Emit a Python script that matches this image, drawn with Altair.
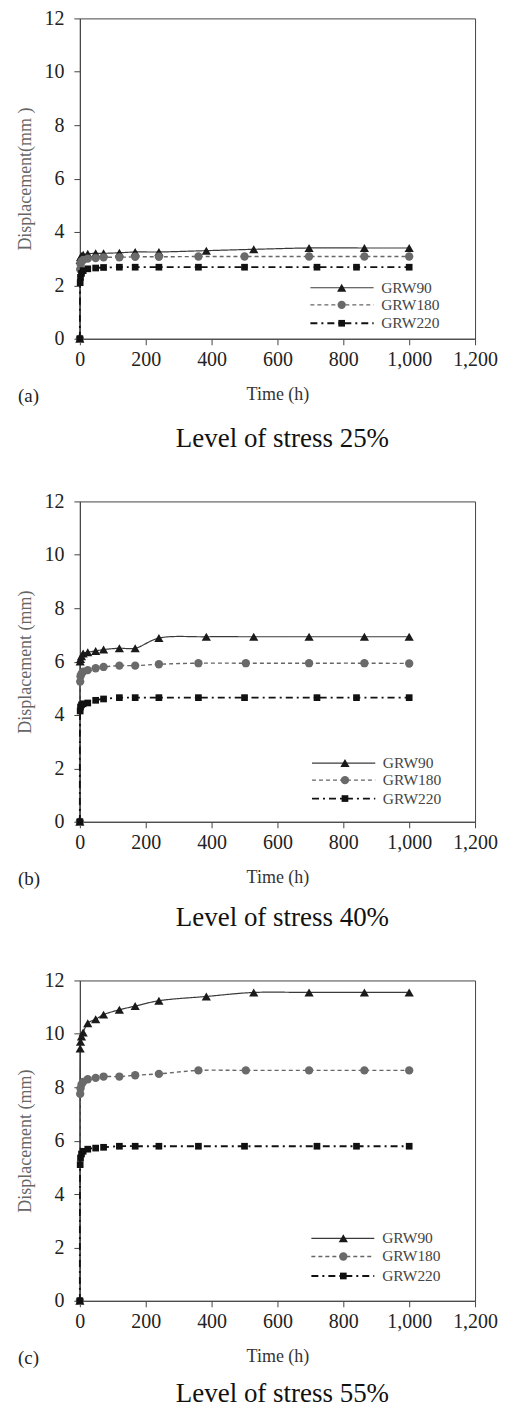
import altair as alt
import pandas as pd

FONT = "Liberation Serif"
W, H = 396, 321

X_TICKS = [0, 200, 400, 600, 800, 1000, 1200]
Y_TICKS = [0, 2, 4, 6, 8, 10, 12]
NAMES = ["GRW90", "GRW180", "GRW220"]

# ---- panel (a): level of stress 25% ----
T90_A = [0, 1, 2, 5, 10, 24, 48, 72, 120, 168, 240, 384, 528, 696, 864, 1000]
V90_A = [0, 2.95, 3.05, 3.1, 3.15, 3.18, 3.2, 3.2, 3.22, 3.25, 3.25, 3.3, 3.35, 3.4, 3.4, 3.4]
T180_A = [0, 1, 2, 5, 10, 24, 48, 72, 120, 168, 240, 360, 500, 696, 864, 1000]
V180_A = [0, 2.6, 2.8, 2.9, 2.95, 3.0, 3.02, 3.05, 3.05, 3.07, 3.07, 3.08, 3.08, 3.08, 3.08, 3.08]
T220_A = [0, 1, 2, 5, 10, 24, 48, 72, 120, 168, 240, 360, 500, 720, 840, 1000]
V220_A = [0, 2.1, 2.3, 2.45, 2.55, 2.62, 2.65, 2.67, 2.68, 2.68, 2.68, 2.68, 2.68, 2.68, 2.68, 2.68]

# ---- panel (b): level of stress 40% ----
T90_B = [0, 1, 2, 5, 10, 24, 48, 72, 120, 168, 240, 384, 528, 696, 864, 1000]
V90_B = [0, 6.0, 6.1, 6.2, 6.3, 6.35, 6.4, 6.45, 6.5, 6.5, 6.88, 6.93, 6.93, 6.93, 6.93, 6.93]
T180_B = [0, 1, 2, 5, 10, 24, 48, 72, 120, 168, 240, 360, 504, 696, 864, 1000]
V180_B = [0, 5.25, 5.45, 5.55, 5.62, 5.68, 5.75, 5.8, 5.85, 5.85, 5.9, 5.94, 5.94, 5.94, 5.94, 5.93]
T220_B = [0, 1, 2, 5, 10, 24, 48, 72, 120, 168, 240, 360, 500, 720, 840, 1000]
V220_B = [0, 4.15, 4.3, 4.38, 4.42, 4.45, 4.55, 4.6, 4.65, 4.65, 4.65, 4.65, 4.65, 4.65, 4.65, 4.65]

# ---- panel (c): level of stress 55% ----
T90_C = [0, 1, 2, 5, 10, 24, 48, 72, 120, 168, 240, 384, 528, 696, 864, 1000]
V90_C = [0, 9.45, 9.7, 9.9, 10.05, 10.4, 10.55, 10.72, 10.9, 11.04, 11.24, 11.4, 11.55, 11.55, 11.55, 11.55]
T180_C = [0, 1, 2, 5, 10, 24, 48, 72, 120, 168, 240, 360, 504, 696, 864, 1000]
V180_C = [0, 7.75, 7.95, 8.1, 8.2, 8.3, 8.35, 8.4, 8.4, 8.45, 8.5, 8.63, 8.63, 8.63, 8.63, 8.63]
T220_C = [0, 1, 2, 5, 10, 24, 48, 72, 120, 168, 240, 360, 500, 720, 840, 1000]
V220_C = [0, 5.1, 5.35, 5.5, 5.6, 5.68, 5.72, 5.75, 5.79, 5.79, 5.79, 5.79, 5.79, 5.79, 5.79, 5.79]

# legend positions (data units) per panel: line start, line end, marker, text, rows
LEG_A = {"t1": 700, "t2": 892, "tm": 795, "tt": 915, "rows": [1.91, 1.27, 0.58]}
LEG_B = {"t1": 705, "t2": 897, "tm": 805, "tt": 920, "rows": [2.2, 1.56, 0.87]}
LEG_C = {"t1": 703, "t2": 894, "tm": 800, "tt": 918, "rows": [2.34, 1.66, 0.93]}

STYLES = {
    "GRW90": dict(color="#3a3a3a", mcolor="#1a1a1a", dash=[1, 0], width=1.2, shape="triangle-up", size=85),
    "GRW180": dict(color="#666666", mcolor="#6a6a6a", dash=[4, 3], width=1.4, shape="circle", size=70),
    "GRW220": dict(color="#111111", mcolor="#111111", dash=[7, 4, 2, 4], width=1.8, shape="square", size=45),
}

XS = alt.Scale(domain=[0, 1200], nice=False, zero=True)
YS = alt.Scale(domain=[0, 12], nice=False)


def panel(tag, ytitle, caption, series, leg, cap_offset):
    common = dict(labelFont=FONT, labelFontSize=20, labelColor="#222", titleFont=FONT,
                  titleFontSize=18, titleFontWeight="normal", grid=False,
                  domainColor="#444", tickColor="#444", tickSize=6)
    xaxis = alt.Axis(title="Time (h)", values=X_TICKS, format=",d", labelFlush=False,
                     labelOverlap=False, labelPadding=5, titlePadding=16, titleColor="#333",
                     **common)
    yaxis = alt.Axis(title=ytitle, values=Y_TICKS, labelPadding=10, titlePadding=9,
                     titleColor="#666", **common)

    def X(field):
        return alt.X(field, type="quantitative", scale=XS, axis=xaxis)

    def Y(field):
        return alt.Y(field, type="quantitative", scale=YS, axis=yaxis)

    layers = []
    for name, (t, v) in zip(NAMES, series):
        st = STYLES[name]
        df = pd.DataFrame({"t": t, "v": v})
        layers.append(
            alt.Chart(df).mark_line(color=st["color"], strokeWidth=st["width"],
                                    strokeDash=st["dash"], interpolate="catmull-rom")
            .encode(x=X("t"), y=Y("v"))
        )
        layers.append(
            alt.Chart(df).mark_point(shape=st["shape"], size=st["size"], filled=True,
                                     color=st["mcolor"], opacity=1)
            .encode(x=X("t"), y=Y("v"))
        )
    for name, row in zip(NAMES, leg["rows"]):
        st = STYLES[name]
        ldf = pd.DataFrame({"t": [leg["t1"]], "t2": [leg["t2"]], "tm": [leg["tm"]],
                            "tt": [leg["tt"]], "v": [row], "name": [name]})
        layers.append(
            alt.Chart(ldf).mark_rule(color=st["color"], strokeWidth=st["width"],
                                     strokeDash=st["dash"])
            .encode(x=X("t"), x2="t2", y=Y("v"))
        )
        layers.append(
            alt.Chart(ldf).mark_point(shape=st["shape"], size=st["size"], filled=True,
                                      color=st["mcolor"], opacity=1)
            .encode(x=X("tm"), y=Y("v"))
        )
        layers.append(
            alt.Chart(ldf).mark_text(align="left", baseline="middle", font=FONT,
                                     fontSize=15.5, color="#444")
            .encode(x=X("tt"), y=Y("v"), text="name:N")
        )
    layers.append(
        alt.Chart(pd.DataFrame({"lab": [tag]})).mark_text(
            align="left", baseline="middle", font=FONT, fontSize=19, color="#222")
        .encode(x=alt.value(-62), y=alt.value(H + 57), text="lab:N")
    )
    return alt.layer(*layers).properties(
        width=W, height=H,
        title=alt.TitleParams(caption, orient="bottom", anchor="middle", frame="group",
                              font=FONT, fontSize=27, fontWeight="normal", color="#111",
                              offset=cap_offset, dx=5),
    )


pa = panel("(a)", "Displacement(mm )", "Level of stress 25%",
           [(T90_A, V90_A), (T180_A, V180_A), (T220_A, V220_A)], LEG_A, 20)
pb = panel("(b)", "Displacement (mm)", "Level of stress 40%",
           [(T90_B, V90_B), (T180_B, V180_B), (T220_B, V220_B)], LEG_B, 16)
pc = panel("(c)", "Displacement (mm)", "Level of stress 55%",
           [(T90_C, V90_C), (T180_C, V180_C), (T220_C, V220_C)], LEG_C, 13)

chart = (
    alt.vconcat(pa, pb, pc, spacing=38)
    .properties(padding={"left": 8, "top": -2, "right": 5, "bottom": 2}, background="white")
    .configure_view(stroke="#444", strokeWidth=1)
)

chart.save("out.html", embed_options={"renderer": "svg", "actions": False})
